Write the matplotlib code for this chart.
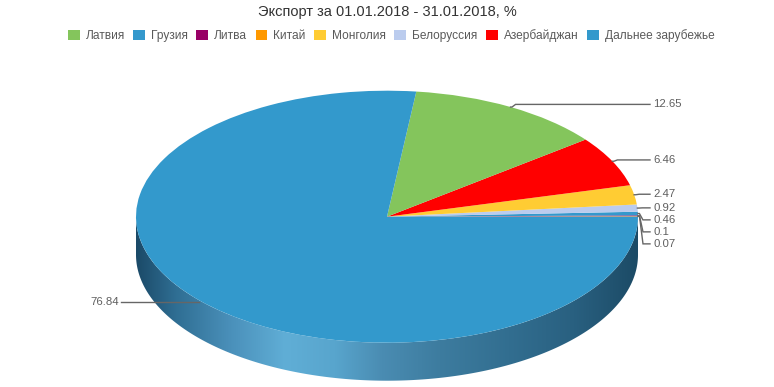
import numpy as np
import matplotlib
matplotlib.use("Agg")
import matplotlib.pyplot as plt
from matplotlib.patches import Polygon, Patch
from matplotlib.transforms import Affine2D
from matplotlib.colors import LinearSegmentedColormap

plt.rcParams['font.family'] = ['Liberation Sans', 'DejaVu Sans']

title = "Экспорт за 01.01.2018 - 31.01.2018, %"
categories = ['Латвия', 'Грузия', 'Литва', 'Китай', 'Монголия',
              'Белоруссия', 'Азербайджан', 'Дальнее зарубежье']
values = [12.65, 0.46, 0.1, 0.07, 2.47, 0.92, 6.46, 76.84]
colors = ['#84c55c', '#3498cc', '#990066', '#ff9900', '#ffcc33',
          '#bbccee', '#ff0000', '#3399cc']
value_labels = ['12.65', '0.46', '0.1', '0.07', '2.47', '0.92', '6.46', '76.84']

W, H = 774, 387
fig = plt.figure(figsize=(W / 100, H / 100), dpi=100)
ax = fig.add_axes([0, 0, 1, 1])

cx, cy = 387.0, 216.7
rx, ry = 251.0, 126.0
depth = 38.0

# pie order: ascending values, counterclockwise from 3 o'clock
order = sorted(range(len(values)), key=lambda i: values[i])
pv = [values[i] for i in order]
pc = [colors[i] for i in order]
pl = [value_labels[i] for i in order]

# --- side wall (front half) with gradient ---
t = np.linspace(np.pi, 2 * np.pi, 300)
top_x = cx + rx * np.cos(t)
top_y = cy - ry * np.sin(t)
side_pts = np.concatenate([np.column_stack([top_x, top_y]),
                           np.column_stack([top_x[::-1], top_y[::-1] + depth])])
side = Polygon(side_pts, closed=True, facecolor='none', edgecolor='none')
ax.add_patch(side)
stops = [(136, '#1b4a68'), (175, '#2f6e93'), (230, '#4a90ba'), (285, '#60aed6'),
         (335, '#58a5cd'), (382, '#4a8cb2'), (440, '#3d7c9f'), (510, '#326e90'),
         (575, '#296080'), (638, '#1c4b66')]
x0, x1 = stops[0][0], stops[-1][0]
cmap = LinearSegmentedColormap.from_list(
    'side', [((s - x0) / (x1 - x0), c) for s, c in stops])
grad = np.linspace(0, 1, 512)[None, :]
im = ax.imshow(grad, cmap=cmap, extent=(x0, x1, cy + ry + depth + 2, cy - 2),
               aspect='auto', interpolation='bicubic', zorder=1)
im.set_clip_path(side)

# --- top face via pie, squashed vertically ---
wedges, _ = ax.pie(pv, colors=pc, startangle=0, counterclock=False,
                   center=(cx, cy), radius=rx, frame=True,
                   wedgeprops=dict(linewidth=0))
squash = Affine2D().translate(-cx, -cy).scale(1, ry / rx).translate(cx, cy)
for w in wedges:
    w.set_transform(squash + ax.transData)
    w.set_zorder(2)

# --- labels ---
cum = np.cumsum([0] + pv)
tot = cum[-1]
right, left = [], []
for k, v in enumerate(pv):
    mid = 2 * np.pi * (cum[k] + v / 2) / tot
    ax_ = cx + rx * np.cos(mid)
    ay_ = cy - ry * np.sin(mid)
    ny = cy - (ry + 3) * np.sin(mid)
    (right if np.cos(mid) >= 0 else left).append([ax_, ay_, ny, pl[k]])

right.sort(key=lambda r: r[2])
prev = -1e9
lc = '#666666'
for r in right:
    ly = max(r[2], prev + 12)
    prev = ly
    xa, ya = r[0], r[1]
    bx = min(xa + 5, 645)
    ax.plot([xa, xa + 1.5, bx, 650], [ya, ya, ly, ly], color=lc, lw=1,
            zorder=3, solid_joinstyle='miter')
    ax.text(653, ly, r[3], ha='left', va='center', fontsize=8.2, color='#5f5f5f')

for r in left:
    ly = r[2]
    xa, ya = r[0], r[1]
    ax.plot([xa, 121], [ly, ly], color=lc, lw=1, zorder=3)
    ax.text(119, ly, r[3], ha='right', va='center', fontsize=8.2, color='#5f5f5f')

# --- title and legend ---
ax.text(W / 2, 12, title, ha='center', va='center', fontsize=10.5, color='#333333')
handles = [Patch(facecolor=c, edgecolor='none') for c in colors]
leg = ax.legend(handles, categories, loc='center', bbox_to_anchor=(391 / W, 1 - 35.5 / H),
                ncol=len(categories), frameon=False, fontsize=8.6,
                handlelength=1.0, handleheight=1.0, handletextpad=0.5,
                columnspacing=0.7, borderaxespad=0, borderpad=0)
for txt in leg.get_texts():
    txt.set_color('#5a5a5a')

ax.set_xlim(0, W)
ax.set_ylim(H, 0)
ax.set_aspect('auto')
ax.axis('off')
fig.savefig('out.png', dpi=100)
